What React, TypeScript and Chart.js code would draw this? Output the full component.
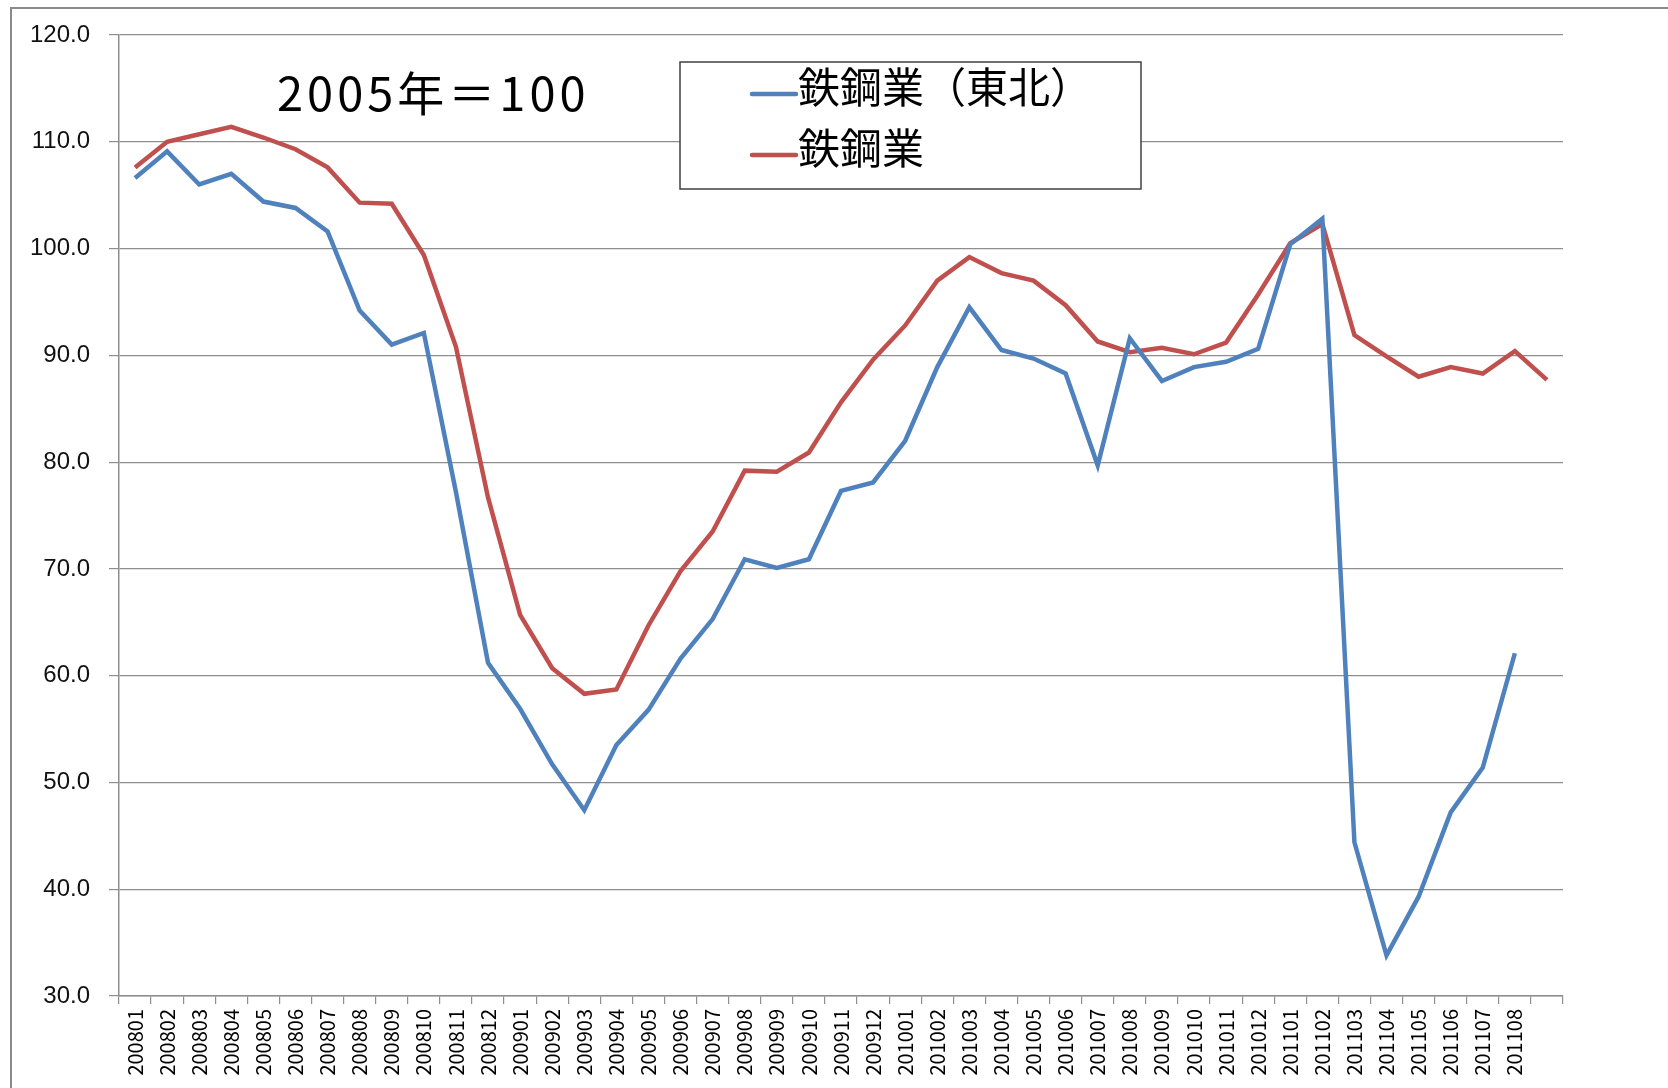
import React, { useEffect, useRef } from "react";
import { Chart, registerables } from "chart.js";

Chart.register(...registerables);

const categories = [
  "200801", "200802", "200803", "200804", "200805", "200806", "200807", "200808", "200809", "200810", "200811", "200812",
  "200901", "200902", "200903", "200904", "200905", "200906", "200907", "200908", "200909", "200910", "200911", "200912",
  "201001", "201002", "201003", "201004", "201005", "201006", "201007", "201008", "201009", "201010", "201011", "201012",
  "201101", "201102", "201103", "201104", "201105", "201106", "201107", "201108", "",
];

const steelTohoku = [
  106.6, 109.1, 106.0, 107.0, 104.4, 103.8, 101.6, 94.2, 91.0, 92.1, 77.2, 61.2,
  56.9, 51.7, 47.4, 53.5, 56.8, 61.6, 65.3, 70.9, 70.1, 70.9, 77.3, 78.1,
  82.0, 88.9, 94.5, 90.5, 89.7, 88.3, 79.7, 91.6, 87.6, 88.9, 89.4, 90.6,
  100.4, 102.8, 44.4, 33.8, 39.3, 47.2, 51.4, 62.1, null,
];

const steelNational = [
  107.6, 110.0, 110.7, 111.4, 110.4, 109.3, 107.6, 104.3, 104.2, 99.4, 90.8, 76.7,
  65.7, 60.7, 58.3, 58.7, 64.7, 69.8, 73.5, 79.2, 79.1, 80.9, 85.6, 89.6,
  92.8, 97.0, 99.2, 97.7, 97.0, 94.7, 91.3, 90.3, 90.7, 90.1, 91.2, 95.7,
  100.5, 102.3, 91.9, 89.9, 88.0, 88.9, 88.3, 90.4, 87.7,
];

const seriesLabels = ["鉄鋼業（東北）", "鉄鋼業"];
const seriesColors = ["#4F81BD", "#C0504D"];
const titleText = "2005年＝100";
const yMin = 30;
const yMax = 120;
const yStep = 10;

const W = 1668;
const H = 1088;

const decorPlugin = {
  id: "decor",
  beforeDraw(chart: any) {
    const ctx = chart.ctx;
    ctx.save();
    ctx.fillStyle = "#ffffff";
    ctx.fillRect(0, 0, chart.width, chart.height);
    ctx.strokeStyle = "#8a8a8a";
    ctx.lineWidth = 2;
    ctx.beginPath();
    ctx.moveTo(11, chart.height + 2);
    ctx.lineTo(11, 8);
    ctx.lineTo(chart.width + 2, 8);
    ctx.stroke();
    ctx.restore();
  },
  afterDraw(chart: any) {
    const ctx = chart.ctx;
    const a = chart.chartArea;
    ctx.save();
    // title text inside plot
    ctx.fillStyle = "#000000";
    ctx.font = "47px 'Noto Sans CJK JP'";
    (ctx as any).letterSpacing = "4px";
    ctx.textBaseline = "alphabetic";
    ctx.textAlign = "left";
    ctx.fillText(titleText, a.left + 158, a.top + 76);
    (ctx as any).letterSpacing = "0px";

    // legend box
    const bx = a.left + 561;
    const by = a.top + 27;
    const bw = 461;
    const bh = 127;
    ctx.fillStyle = "#ffffff";
    ctx.fillRect(bx, by, bw, bh);
    ctx.strokeStyle = "#404040";
    ctx.lineWidth = 1.5;
    ctx.strokeRect(bx, by, bw, bh);
    const rows = [by + 32, by + 93];
    chart.data.datasets.forEach((ds: any, i: number) => {
      const cy = rows[i];
      ctx.strokeStyle = ds.borderColor;
      ctx.lineWidth = 4.5;
      ctx.lineCap = "round";
      ctx.beginPath();
      ctx.moveTo(bx + 72, cy);
      ctx.lineTo(bx + 116, cy);
      ctx.stroke();
      ctx.fillStyle = "#000000";
      ctx.font = "42px 'Noto Sans CJK JP'";
      ctx.textBaseline = "middle";
      ctx.fillText(ds.label, bx + 118, cy - 7);
    });
    ctx.restore();
  },
};

export default function App() {
  const ref = useRef<HTMLCanvasElement | null>(null);

  useEffect(() => {
    if (!ref.current) return;
    const chart = new Chart(ref.current, {
      type: "line",
      data: {
        labels: categories,
        datasets: [
          {
            label: seriesLabels[0],
            data: steelTohoku,
            borderColor: seriesColors[0],
            backgroundColor: seriesColors[0],
            borderWidth: 4.5,
            pointRadius: 0,
            tension: 0,
            spanGaps: false,
          },
          {
            label: seriesLabels[1],
            data: steelNational,
            borderColor: seriesColors[1],
            backgroundColor: seriesColors[1],
            borderWidth: 4.5,
            pointRadius: 0,
            tension: 0,
          },
        ],
      },
      options: {
        responsive: false,
        animation: false,
        devicePixelRatio: 1,
        layout: { padding: { left: 0, top: 35, right: W - 1563, bottom: 0 } },
        plugins: {
          legend: { display: false },
          tooltip: { enabled: false },
          title: { display: false },
        },
        scales: {
          x: {
            type: "category",
            offset: true,
            grid: {
              offset: true,
              drawOnChartArea: false,
              drawTicks: true,
              tickLength: 8,
              color: "#8e8e8e",
              lineWidth: 1.2,
            },
            border: { display: true, color: "#8e8e8e", width: 1.5 },
            ticks: {
              autoSkip: false,
              minRotation: 90,
              maxRotation: 90,
              padding: 5,
              color: "#000000",
              font: { family: "'Noto Sans CJK JP'", size: 20 },
            },
            afterFit: (s: any) => {
              s.height = H - 996;
            },
          },
          y: {
            min: yMin,
            max: yMax,
            grid: {
              color: "#8e8e8e",
              lineWidth: 1.2,
              drawTicks: true,
              tickLength: 10,
            },
            border: { display: true, color: "#8e8e8e", width: 1.5 },
            ticks: {
              stepSize: yStep,
              padding: 19,
              color: "#111111",
              font: { family: "'Liberation Sans'", size: 24 },
              callback: (v: any) => Number(v).toFixed(1),
            },
            afterFit: (s: any) => {
              s.width = 119;
            },
          },
        },
      },
      plugins: [decorPlugin],
    });
    return () => chart.destroy();
  }, []);

  return (
    <div style={{ position: "fixed", left: 0, top: 0, width: W, height: H, background: "#fff" }}>
      <canvas ref={ref} width={W} height={H} style={{ width: W, height: H, display: "block" }} />
    </div>
  );
}
